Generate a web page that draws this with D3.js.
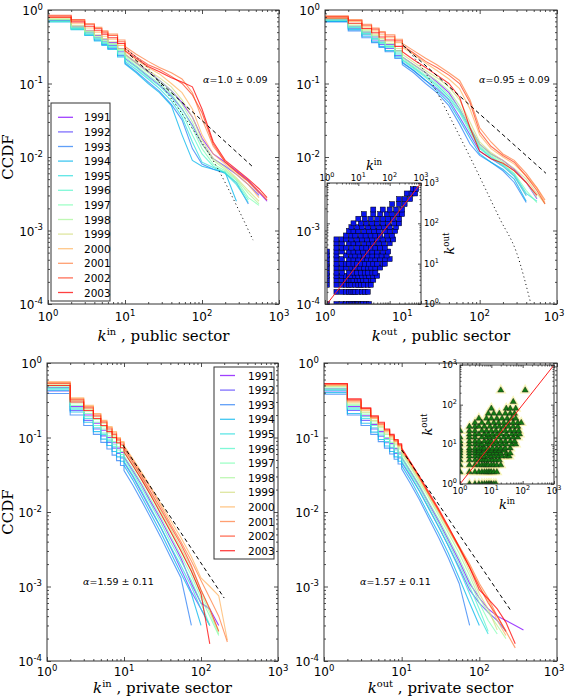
<!DOCTYPE html>
<html><head><meta charset="utf-8">
<script src="https://cdn.jsdelivr.net/npm/d3@7"></script>
<style>body{margin:0;background:#fff}svg{display:block}</style>
</head><body>
<svg id="c" width="566" height="700"></svg>
<script>
// ---------------- DATA ----------------
const years = [1991,1992,1993,1994,1995,1996,1997,1998,1999,2000,2001,2002,2003];
const kTop = [1,2,3,4,5,6,8,10,14,20,28,40,55,75,100,140,200,280,400,550,700];
const kBot = [1,2,3,4,5,6,7,8,9,10,13,17,22,30,40,55,75,100,130,170,220,290,370];

const inPublic = [
 [.72,.60,.52,.45,.40,.36,.30,.25,.19,.145,.11,.08,.055,.035,.018,.011,.0085,.0065,.0048,.0033,.0025],
 [.73,.58,.49,.42,.37,.33,.27,.22,.17,.125,.095,.068,.045,.027,.015,.0095,.0075,.0058,.0042,.003],
 [.70,.55,.46,.39,.34,.30,.24,.19,.145,.105,.078,.052,.032,.013,.008,.0068,.006,.0045,.0023],
 [.69,.54,.45,.38,.33,.29,.23,.185,.14,.10,.075,.05,.02,.009,.0075,.0068,.0062,.0025],
 [.71,.56,.47,.40,.35,.31,.25,.20,.155,.115,.085,.058,.035,.016,.0085,.0072,.006,.0042,.0024],
 [.70,.55,.47,.41,.36,.32,.26,.21,.165,.12,.092,.065,.04,.02,.011,.0075,.0062,.0045,.0026],
 [.74,.58,.50,.43,.38,.34,.28,.23,.175,.13,.10,.072,.046,.025,.013,.008,.0065,.0048,.0028,.0022],
 [.75,.60,.51,.44,.39,.35,.29,.24,.185,.14,.11,.08,.052,.03,.015,.009,.0068,.005,.0032,.0023],
 [.76,.62,.53,.46,.41,.37,.30,.25,.195,.15,.12,.09,.06,.035,.017,.0095,.0072,.0052,.0035,.0025],
 [.79,.66,.57,.50,.44,.40,.33,.27,.21,.165,.135,.10,.075,.045,.02,.011,.008,.0058,.0042,.0028],
 [.83,.72,.65,.58,.52,.47,.39,.32,.25,.20,.165,.14,.115,.075,.033,.014,.0085,.0062,.0046,.0032],
 [.85,.74,.64,.56,.50,.45,.37,.30,.23,.18,.155,.125,.10,.07,.04,.015,.0085,.0063,.0047,.0034,.0026],
 [.80,.69,.60,.53,.47,.42,.35,.28,.22,.17,.145,.12,.105,.09,.045,.016,.009,.0068,.005,.0037,.0028]
];
const outPublic = [
 [.74,.60,.50,.43,.38,.34,.28,.23,.18,.14,.105,.075,.045,.025,.015,.011,.009,.0068,.0045,.0027],
 [.71,.56,.46,.39,.34,.30,.24,.195,.15,.11,.085,.06,.035,.02,.012,.0095,.0075,.0055,.003],
 [.69,.52,.42,.36,.31,.27,.22,.18,.14,.10,.075,.05,.028,.015,.0105,.0085,.0065,.0045,.0024],
 [.70,.54,.44,.37,.32,.28,.23,.19,.15,.11,.08,.055,.032,.018,.011,.0085,.0068,.005,.0025],
 [.73,.58,.48,.41,.36,.32,.26,.21,.165,.125,.095,.066,.042,.024,.0135,.01,.0078,.0058,.0032,.0025],
 [.72,.57,.47,.40,.35,.31,.25,.205,.16,.12,.09,.062,.04,.022,.013,.0098,.0075,.0055,.003],
 [.75,.60,.50,.43,.37,.33,.27,.22,.17,.13,.10,.07,.045,.024,.014,.0105,.008,.006,.0035,.0024],
 [.76,.62,.52,.45,.39,.35,.28,.23,.18,.14,.11,.08,.05,.026,.015,.011,.0085,.0065,.0045,.0028],
 [.77,.65,.54,.47,.41,.37,.30,.25,.195,.15,.12,.09,.06,.03,.016,.0115,.009,.007,.005,.0032,.0023],
 [.80,.70,.59,.52,.46,.42,.36,.31,.25,.19,.15,.115,.085,.045,.02,.013,.01,.008,.0055,.0038,.0024],
 [.83,.74,.64,.57,.51,.46,.40,.35,.28,.22,.18,.14,.11,.06,.025,.016,.011,.009,.006,.0038,.0026],
 [.82,.72,.62,.55,.49,.44,.38,.33,.26,.20,.165,.13,.10,.055,.022,.014,.0105,.0085,.0055,.0035,.0023],
 [.78,.66,.56,.49,.43,.39,.32,.27,.21,.165,.13,.10,.065,.025,.012,.0095,.0082,.0065,.0045,.003]
];
const inPrivate = [
 [.47,.26,.20,.155,.125,.10,.085,.072,.063,.055,.036,.023,.014,.008,.0045,.0024,.0011,.0006,.0005,.0003],
 [.42,.23,.17,.13,.105,.086,.072,.061,.053,.046,.03,.018,.011,.0062,.0034,.0017,.00085,.0005,.0003],
 [.39,.20,.145,.11,.086,.07,.058,.049,.042,.036,.023,.014,.0085,.0046,.0025,.0013,.0003],
 [.43,.22,.16,.12,.095,.078,.065,.055,.048,.042,.027,.016,.0097,.0053,.0029,.0015,.0008,.0003],
 [.45,.24,.18,.135,.11,.09,.075,.063,.055,.048,.031,.019,.0115,.0063,.0035,.0019,.001,.0005,.0003],
 [.46,.25,.19,.145,.115,.095,.08,.068,.059,.052,.034,.021,.013,.0072,.004,.0022,.0012,.0006,.0003],
 [.48,.27,.21,.16,.13,.105,.088,.075,.065,.057,.038,.024,.015,.0085,.0048,.0026,.0014,.0007,.0004,.00022],
 [.50,.29,.225,.175,.14,.115,.097,.083,.072,.063,.042,.027,.017,.0098,.0056,.003,.0016,.0008,.00045,.00023],
 [.52,.31,.24,.19,.155,.125,.105,.09,.078,.068,.045,.029,.018,.0105,.006,.0033,.0018,.0009,.0005,.00025],
 [.56,.34,.27,.21,.17,.14,.12,.10,.088,.078,.052,.034,.022,.013,.0078,.0045,.0025,.0013,.001,.00075,.00019],
 [.55,.33,.26,.205,.165,.135,.115,.097,.085,.075,.05,.032,.021,.012,.007,.004,.0022,.0012,.0007,.0004,.00018],
 [.53,.32,.25,.195,.16,.13,.11,.093,.081,.071,.047,.03,.019,.011,.0065,.0037,.0019,.0009,.0005,.00025],
 [.50,.30,.23,.18,.145,.12,.10,.085,.073,.064,.042,.027,.017,.0095,.0055,.003,.0016,.0008,.00017]
];
const outPrivate = [
 [.45,.26,.195,.15,.12,.098,.083,.071,.062,.054,.035,.022,.0135,.0075,.0042,.0022,.0011,.0007,.0005,.0004,.00035,.0003,.00026],
 [.42,.23,.17,.13,.104,.085,.072,.061,.053,.046,.03,.019,.0115,.0063,.0035,.0018,.0009,.0006,.00045,.00035,.00025],
 [.38,.20,.145,.11,.088,.072,.06,.051,.044,.038,.024,.0145,.0085,.0045,.0024,.0011,.0003],
 [.40,.21,.155,.118,.094,.077,.065,.055,.048,.042,.027,.016,.0095,.0052,.0028,.0013,.0006,.0003],
 [.43,.24,.18,.135,.108,.088,.074,.063,.055,.048,.031,.019,.0115,.0063,.0035,.0017,.0008,.0004,.00023],
 [.44,.25,.19,.145,.115,.094,.08,.068,.059,.052,.033,.021,.0125,.007,.0039,.002,.001,.0005,.00025],
 [.46,.27,.205,.155,.125,.10,.086,.073,.064,.056,.036,.023,.014,.008,.0045,.0024,.0012,.0006,.00035,.00023],
 [.48,.28,.215,.165,.135,.11,.094,.08,.07,.061,.04,.025,.016,.009,.0052,.0028,.0014,.0007,.00045,.0003,.0002],
 [.49,.29,.22,.17,.14,.115,.098,.084,.073,.064,.042,.027,.017,.0097,.0057,.0032,.0016,.0008,.0005,.00026],
 [.50,.30,.23,.18,.146,.12,.102,.088,.076,.066,.044,.028,.0175,.0102,.006,.0034,.0019,.001,.00065,.00035,.00022],
 [.51,.31,.24,.185,.15,.124,.105,.09,.078,.068,.045,.029,.018,.0105,.0062,.0035,.002,.0011,.0007,.0004,.00025,.00015],
 [.52,.32,.245,.19,.155,.127,.107,.092,.08,.07,.046,.029,.018,.0105,.006,.0033,.0018,.001,.0006,.0004,.00025],
 [.53,.33,.25,.195,.16,.13,.11,.094,.082,.072,.047,.03,.019,.011,.0064,.0034,.0018,.0009,.00068,.0005,.00033,.00017]
];

// power-law fits (dashed) and cut-off fits (dotted)
const fitInPublic = [[11.6,0.245],[460,0.0073]];
const cutInPublic = [[10,0.30],[20,0.16],[35,0.075],[70,0.027],[156,0.0073],[300,0.0019],[460,0.00074]];
const fitOutPublic = [[10.2,0.33],[720,0.006]];
const cutOutPublic = [[10,0.35],[23,0.11],[40,0.037],[75,0.01],[185,0.0014],[300,0.0005],[460,0.0001]];
const fitInPrivate = [[9.7,0.079],[200,0.0007]];
const fitOutPrivate = [[10,0.068],[260,0.00046]];

const alphaLabels = ["1.0 \u00b1 0.09","0.95 \u00b1 0.09","1.59 \u00b1 0.11","1.57 \u00b1 0.11"];
const xTickValues = [1,10,100,1000];
const xTickExps = ["0","1","2","3"];
const yTickValues = [1,0.1,0.01,0.001,0.0001];
const yTickExps = ["0","-1","-2","-3","-4"];

// inset scatter: rows of [k_out, list of k_in]
const insetPublic = [
 [1,[1,2,3,4,5,6,7,8,9,10,12,14,18,22]],
 [2,[2,3,4,5,6,7,8,10,13,16,20]],
 [3,[1,2,3,4,5,6,8,10,12,15,20,25]],
 [4,[1,2,3,4,5,6,7,9,11,14,18,25,30]],
 [5,[1,2,3,4,5,6,8,10,13,17,22,30,40]],
 [6,[1,2,3,5,7,9,12,16,20,28,35]],
 [8,[1,2,3,4,6,8,11,15,20,26,35,50]],
 [10,[1,2,3,4,5,7,9,12,16,22,30,40,60,70]],
 [13,[1,2,3,5,7,10,14,19,25,35,50,70,100]],
 [16,[1,2,4,6,8,11,15,20,28,40,55,80]],
 [20,[1,2,3,5,7,10,14,20,28,40,60,90]],
 [25,[2,3,4,6,9,13,18,25,35,50,70]],
 [32,[2,3,5,7,10,15,22,30,45,65,100]],
 [40,[2,3,4,6,9,13,19,27,40,60,90,130]],
 [50,[4,6,8,12,17,25,35,50,80,120]],
 [65,[5,7,10,15,22,32,45,70,100,150]],
 [80,[6,9,13,20,30,45,65,100,160]],
 [100,[7,12,18,27,40,60,90,140,200]],
 [130,[10,16,25,40,60,90,130,200]],
 [170,[15,30,50,80,120,180,250]],
 [220,[30,60,100,160,250]],
 [300,[120,200,300]],
 [400,[200,300,450]],
 [550,[350,500,650]],
 [700,[550,700]]
];
const insetPrivate = [
 [1,[2,3,4,5,6,7,8,9,10,12,14]],
 [2,[1,2,3,4,5,6,7,8,9,10,12,15]],
 [3,[1,2,3,4,5,6,7,8,10,12,15,20]],
 [4,[1,2,3,4,5,6,7,9,11,14,18]],
 [5,[1,2,3,4,5,6,8,10,13,17,22,30,37]],
 [6,[1,2,3,4,5,7,9,12,15,20,30,40]],
 [7,[1,2,3,4,6,8,10,14,18,25]],
 [8,[1,2,3,4,5,6,8,11,15,20,28,40]],
 [10,[1,2,3,4,5,7,9,12,16,22,30,45,60]],
 [12,[1,2,3,4,6,8,10,14,20,28,40,55]],
 [15,[1,2,3,5,7,9,12,17,25,35,50,70]],
 [18,[2,3,4,6,8,11,15,20,30,45,60,80]],
 [22,[1,2,3,5,7,10,14,20,28,40,55,75]],
 [28,[2,3,4,6,9,13,18,25,35,50,70]],
 [35,[3,5,8,12,17,25,35,50,70,90]],
 [45,[4,7,10,15,22,32,45,60]],
 [60,[8,12,18,28,40,55]],
 [80,[10,30,40,60]],
 [118,[50]],
 [230,[20,120]]
];

// ---------------- DRAWING ----------------
const svg = d3.select("#c");
const SANS = "DejaVu Sans, sans-serif", SERIF = "DejaVu Serif, serif";
function rainbow(t){
  const r = Math.min(1, Math.abs(2*t-0.5)), g = Math.sin(Math.PI*t), b = Math.cos(Math.PI*t/2);
  return d3.rgb(r*255, g*255, Math.max(0,b)*255).formatHex();
}
const colorOf = i => rainbow(i/(years.length-1));
const majorX = [1,10,100,1000];
const minorX = d3.merge([1,10,100].map(d => d3.range(2,10).map(m => m*d)));
const majorY = [1e-4,1e-3,1e-2,1e-1,1];
const minorY = d3.merge([1e-4,1e-3,1e-2,1e-1].map(d => d3.range(2,10).map(m => m*d)));

function supLabel(g, x, y, base, sup, size, supSize, anchor){
  const t = g.append("text").attr("x",x).attr("y",y).attr("font-family",SANS)
    .attr("font-size",size).attr("text-anchor",anchor).attr("fill","#000");
  t.append("tspan").text(base);
  t.append("tspan").attr("dy",-size*0.42).attr("font-size",supSize).text(sup);
  return t;
}
function mathLabel(g, x, y, sup, rest, size, rotate){
  const t = g.append("text").attr("font-family",SERIF).attr("font-size",size)
    .attr("text-anchor","middle").attr("fill","#000").style("white-space","pre");
  if (rotate) t.attr("transform",`translate(${x},${y}) rotate(-90)`); else t.attr("x",x).attr("y",y);
  t.append("tspan").attr("font-style","italic").text("k");
  t.append("tspan").attr("dy",-size*0.4).attr("font-size",size*0.66).text(sup);
  if (rest) t.append("tspan").attr("dy",size*0.4).text(rest);
  return t;
}
function ticks(g, x, y, x0, x1, y0, y1, xMaj, xMin, yMaj, yMin, L, l){
  const mk = (axisFn, sc, vals, len, tr) => g.append("g").attr("transform",tr)
    .call(axisFn(sc).tickValues(vals).tickSize(-len).tickFormat(""))
    .call(s => s.select(".domain").remove())
    .call(s => s.selectAll("line").attr("stroke","#222").attr("stroke-width",0.8));
  mk(d3.axisBottom, x, xMaj, L, `translate(0,${y1})`); mk(d3.axisBottom, x, xMin, l, `translate(0,${y1})`);
  mk(d3.axisTop, x, xMaj, L, `translate(0,${y0})`); mk(d3.axisTop, x, xMin, l, `translate(0,${y0})`);
  mk(d3.axisLeft, y, yMaj, L, `translate(${x0},0)`); mk(d3.axisLeft, y, yMin, l, `translate(${x0},0)`);
  mk(d3.axisRight, y, yMaj, L, `translate(${x1},0)`); mk(d3.axisRight, y, yMin, l, `translate(${x1},0)`);
}

const panels = [
 {x0:48,x1:279,y0:10,y1:304, grid:kTop, series:inPublic, fit:fitInPublic, cut:cutInPublic, sup:"in", rest:" , public sector", tk:17, lab:37, ax:203, ay:83, legend:{x:51,y:103,w:59,h:198,lx:58,tx:84,fy:117.3}, ylab:true},
 {x0:325,x1:557,y0:10,y1:304, grid:kTop, series:outPublic, fit:fitOutPublic, cut:cutOutPublic, sup:"out", rest:" , public sector", tk:17, lab:37, ax:479, ay:83},
 {x0:47,x1:278,y0:363,y1:661, grid:kBot, series:inPrivate, fit:fitInPrivate, sup:"in", rest:" , private sector", tk:15, lab:32, ax:83, ay:585, legend:{x:214,y:367,w:60,h:192,lx:220,tx:248,fy:375.5}, ylab:true},
 {x0:324,x1:557,y0:363,y1:661, grid:kBot, series:outPrivate, fit:fitOutPrivate, sup:"out", rest:" , private sector", tk:15, lab:32, ax:360, ay:585}
];

const defs = svg.append("defs");
panels.forEach((P, pi) => {
  const x = d3.scaleLog().domain([1,1000]).range([P.x0,P.x1]);
  const y = d3.scaleLog().domain([1e-4,1]).range([P.y1,P.y0]);
  const g = svg.append("g");
  defs.append("clipPath").attr("id","cp"+pi).append("rect")
    .attr("x",P.x0).attr("y",P.y0).attr("width",P.x1-P.x0).attr("height",P.y1-P.y0);
  g.append("rect").attr("x",P.x0).attr("y",P.y0).attr("width",P.x1-P.x0).attr("height",P.y1-P.y0).attr("fill","#fff");
  const plot = g.append("g").attr("clip-path",`url(#cp${pi})`);
  P.series.forEach((ps, i) => {
    let d = `M${x(P.grid[0])},${y(ps[0])}`;
    for (let j = 1; j < ps.length; j++) {
      if (P.grid[j] <= 10) d += `H${x(P.grid[j])}V${y(ps[j])}`;
      else d += `L${x(P.grid[j])},${y(ps[j])}`;
    }
    plot.append("path").attr("d",d).attr("fill","none").attr("stroke",colorOf(i))
      .attr("stroke-width",1.1).attr("stroke-opacity",0.75);
  });
  const ln = d3.line().x(d => x(d[0])).y(d => y(d[1]));
  plot.append("path").attr("d",ln(P.fit)).attr("fill","none").attr("stroke","#000")
    .attr("stroke-width",1).attr("stroke-dasharray","4,3");
  if (P.cut) plot.append("path").attr("d",ln.curve(d3.curveMonotoneX)(P.cut)).attr("fill","none")
    .attr("stroke","#000").attr("stroke-width",1).attr("stroke-dasharray","1,3");
  // alpha text
  const at = g.append("text").attr("x",P.ax).attr("y",P.ay).attr("font-family",SANS).attr("font-size",9.5).attr("fill","#000");
  at.append("tspan").attr("font-family",SERIF).attr("font-style","italic").text("\u03b1");
  at.append("tspan").text("=" + alphaLabels[pi]);
  // frame and ticks
  ticks(g, x, y, P.x0, P.x1, P.y0, P.y1, majorX, minorX, majorY, minorY, 4, 2);
  g.append("rect").attr("x",P.x0).attr("y",P.y0).attr("width",P.x1-P.x0).attr("height",P.y1-P.y0)
    .attr("fill","none").attr("stroke","#333").attr("stroke-width",1);
  // tick labels
  xTickValues.forEach((v,k) => supLabel(g, Math.min(x(v), 554), P.y1+P.tk, "10", xTickExps[k], 12, 8.5, "middle"));
  yTickValues.forEach((v,k) => supLabel(g, P.x0-5, y(v)+5, "10", yTickExps[k], 12, 8.5, "end"));
  // axis labels
  mathLabel(g, (P.x0+P.x1)/2, P.y1+P.lab, P.sup, P.rest, 15, false);
  if (P.ylab) g.append("text").attr("transform",`translate(13,${(P.y0+P.y1)/2}) rotate(-90)`)
    .attr("text-anchor","middle").attr("font-family",SERIF).attr("font-size",15).text("CCDF");
  // legend
  if (P.legend) {
    const L = P.legend;
    g.append("rect").attr("x",L.x).attr("y",L.y).attr("width",L.w).attr("height",L.h)
      .attr("fill","#fff").attr("stroke","#333").attr("stroke-width",1);
    years.forEach((yr,i) => {
      const yy = L.fy + i*14.6;
      g.append("line").attr("x1",L.lx).attr("x2",L.lx+15).attr("y1",yy).attr("y2",yy)
        .attr("stroke",colorOf(i)).attr("stroke-width",1.3).attr("stroke-opacity",0.75);
      g.append("text").attr("x",L.tx).attr("y",yy+4).attr("font-family",SANS).attr("font-size",10.5).text(yr);
    });
  }
});

// ---------- insets ----------
function inset(cfg){
  const x = d3.scaleLog().domain([1,1000]).range([cfg.x0,cfg.x1]);
  const y = d3.scaleLog().domain([1,1000]).range([cfg.y1,cfg.y0]);
  const g = svg.append("g");
  defs.append("clipPath").attr("id",cfg.id).append("rect")
    .attr("x",cfg.x0).attr("y",cfg.y0).attr("width",cfg.x1-cfg.x0).attr("height",cfg.y1-cfg.y0);
  g.append("rect").attr("x",cfg.x0).attr("y",cfg.y0).attr("width",cfg.x1-cfg.x0).attr("height",cfg.y1-cfg.y0).attr("fill","#fff");
  const p = g.append("g").attr("clip-path",`url(#${cfg.id})`);
  const pts = d3.merge(cfg.rows.map(r => r[1].map(k => [k, r[0]])));
  if (cfg.marker === "square") {
    p.selectAll("rect.m").data(pts).join("rect").attr("class","m")
      .attr("x",d => x(d[0])-2.5).attr("y",d => y(d[1])-2.5).attr("width",5).attr("height",5)
      .attr("fill","#0a14ee").attr("stroke","#000").attr("stroke-width",0.5);
  } else {
    const tri = d3.symbol().type(d3.symbolTriangle).size(16);
    p.selectAll("path.h").data(pts).join("path").attr("class","h")
      .attr("transform",d => `translate(${x(d[0])},${y(d[1])})`).attr("d",tri)
      .attr("fill","#f6f3a0").attr("stroke","#f6f3a0").attr("stroke-width",3).attr("opacity",0.7);
    p.selectAll("path.m").data(pts).join("path").attr("class","m")
      .attr("transform",d => `translate(${x(d[0])},${y(d[1])})`).attr("d",tri)
      .attr("fill","#137a13").attr("stroke","#111").attr("stroke-width",0.4);
  }
  p.append("line").attr("x1",x(1)).attr("y1",y(1)).attr("x2",x(1000)).attr("y2",y(1000))
    .attr("stroke","#ff2020").attr("stroke-width",1);
  ticks(g, x, y, cfg.x0, cfg.x1, cfg.y0, cfg.y1, majorX, minorX, majorX, minorX, 3, 1.5);
  g.append("rect").attr("x",cfg.x0).attr("y",cfg.y0).attr("width",cfg.x1-cfg.x0).attr("height",cfg.y1-cfg.y0)
    .attr("fill","none").attr("stroke","#333").attr("stroke-width",1);
  if (cfg.xTop) {
    xTickValues.forEach((v,k) => supLabel(g, x(v), cfg.y0-2, "10", xTickExps[k], 8.5, 6.5, "middle"));
    xTickValues.forEach((v,k) => supLabel(g, cfg.x1+3, y(v)+3, "10", xTickExps[k], 8.5, 6.5, "start"));
    mathLabel(g, (cfg.x0+cfg.x1)/2, cfg.y0-13, "in", null, 13, false);
    mathLabel(g, cfg.x1+33, (cfg.y0+cfg.y1)/2, "out", null, 13, true);
  } else {
    xTickValues.forEach((v,k) => supLabel(g, x(v), cfg.y1+10, "10", xTickExps[k], 8.5, 6.5, "middle"));
    xTickValues.forEach((v,k) => supLabel(g, cfg.x0-3, y(v)+3, "10", xTickExps[k], 8.5, 6.5, "end"));
    mathLabel(g, (cfg.x0+cfg.x1)/2, cfg.y1+25, "in", null, 13, false);
    mathLabel(g, cfg.x0-28, (cfg.y0+cfg.y1)/2, "out", null, 13, true);
  }
}
inset({id:"ci1", x0:327, x1:421, y0:183, y1:304, rows:insetPublic, marker:"square", xTop:true});
inset({id:"ci2", x0:460, x1:554, y0:365, y1:484, rows:insetPrivate, marker:"triangle", xTop:false});
</script>
</body></html>
